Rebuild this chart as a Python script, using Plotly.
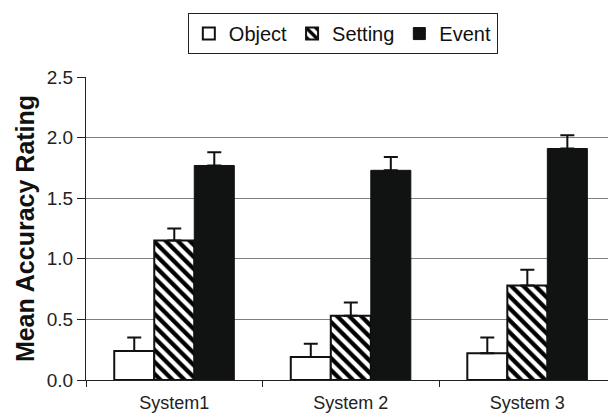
import plotly.graph_objects as go

categories = ["System1", "System 2", "System 3"]
object_vals = [0.24, 0.19, 0.22]
setting_vals = [1.15, 0.53, 0.78]
event_vals = [1.77, 1.73, 1.91]
object_err = [0.11, 0.11, 0.13]
setting_err = [0.10, 0.11, 0.13]
event_err = [0.11, 0.11, 0.11]
y_ticks = [0.0, 0.5, 1.0, 1.5, 2.0, 2.5]

FONT = "Arial"

def err(vals):
    return dict(type="data", array=vals, arrayminus=[0] * len(vals), symmetric=False,
                color="#111111", thickness=2, width=7)

fig = go.Figure()
fig.add_trace(go.Bar(
    name="Object", x=categories, y=object_vals, error_y=err(object_err),
    marker=dict(color="white", line=dict(color="#111111", width=2)),
))
fig.add_trace(go.Bar(
    name="Setting", x=categories, y=setting_vals, error_y=err(setting_err),
    marker=dict(color="white", line=dict(color="#111111", width=2),
                pattern=dict(shape="\\", fgcolor="#000000", bgcolor="white", fgopacity=1,
                             size=8.5, solidity=0.5)),
))
fig.add_trace(go.Bar(
    name="Event", x=categories, y=event_vals, error_y=err(event_err),
    marker=dict(color="#111312", line=dict(color="#111111", width=1)),
))

fig.update_layout(
    width=608, height=414,
    margin=dict(l=86, r=0, t=77, b=34, autoexpand=False),
    paper_bgcolor="white", plot_bgcolor="white",
    barmode="group", bargap=0.32, bargroupgap=0,
    font=dict(family=FONT, size=18, color="#222222"),
    showlegend=True,
    legend=dict(orientation="h", x=0.492, xanchor="center", y=1.211, yanchor="top",
                bordercolor="#222222", borderwidth=1, bgcolor="white",
                font=dict(family=FONT, size=20, color="#111111"),
                itemwidth=30, tracegroupgap=0),
)
fig.update_xaxes(
    range=[-0.5, 2.457], showline=True, linecolor="#222222", linewidth=1,
    ticks="outside", tickson="boundaries", ticklen=6, tickcolor="#222222",
    ticklabelstandoff=6,
    showgrid=False, tickfont=dict(size=18, color="#222222"), automargin=False,
)
fig.update_yaxes(
    range=[0, 2.5], tickvals=y_ticks, tickformat=".1f",
    showline=True, linecolor="#222222", linewidth=1,
    ticks="outside", ticklen=8, tickcolor="#222222",
    showgrid=True, gridcolor="#7f7f7f", gridwidth=1, zeroline=False,
    tickfont=dict(size=19, color="#222222"), automargin=False,
    title=dict(text="<b>Mean Accuracy Rating</b>", font=dict(family=FONT, size=25, color="#111111"), standoff=5),
)

fig.write_html("out.html", config={"displayModeBar": False},
               post_script="document.body.style.margin='0';document.body.style.overflow='hidden';")
